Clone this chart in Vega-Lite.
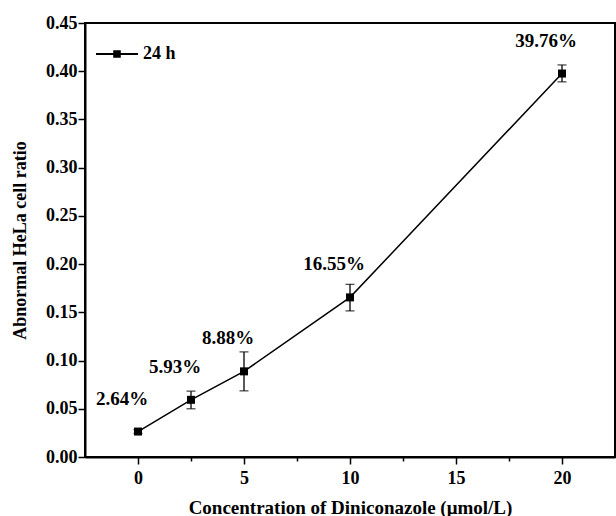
{
  "$schema": "https://vega.github.io/schema/vega-lite/v6.json",
  "width": 530,
  "height": 434,
  "autosize": "none",
  "padding": {"left": 85, "top": 23, "right": 1, "bottom": 59},
  "background": "white",
  "config": {
    "view": {"stroke": "black", "strokeWidth": 2},
    "font": "Liberation Serif",
    "axis": {
      "grid": false,
      "domainColor": "black",
      "domainWidth": 2,
      "tickColor": "black",
      "tickWidth": 1.5,
      "labelFont": "Liberation Serif",
      "labelFontWeight": "bold",
      "labelFontSize": 18,
      "labelColor": "black",
      "titleFont": "Liberation Serif",
      "titleFontWeight": "bold",
      "titleFontSize": 19,
      "titleColor": "black"
    }
  },
  "data": {
    "values": [
      {"conc": 0, "ratio": 0.0264, "lo": 0.0244, "hi": 0.0284, "label": "2.64%", "series": "24 h"},
      {"conc": 2.5, "ratio": 0.0593, "lo": 0.0500, "hi": 0.0683, "label": "5.93%", "series": "24 h"},
      {"conc": 5, "ratio": 0.0888, "lo": 0.0686, "hi": 0.1090, "label": "8.88%", "series": "24 h"},
      {"conc": 10, "ratio": 0.1655, "lo": 0.1515, "hi": 0.1790, "label": "16.55%", "series": "24 h"},
      {"conc": 20, "ratio": 0.3976, "lo": 0.3890, "hi": 0.4065, "label": "39.76%", "series": "24 h"}
    ]
  },
  "encoding": {
    "x": {
      "field": "conc",
      "type": "quantitative",
      "scale": {"domain": [-2.5, 22.5], "nice": false, "zero": false},
      "axis": {
        "title": "Concentration of Diniconazole (μmol/L)",
        "values": [0, 2.5, 5, 7.5, 10, 12.5, 15, 17.5, 20],
        "labelExpr": "datum.value % 5 == 0 ? format(datum.value, 'd') : ''",
        "tickSize": {"condition": {"test": "datum.value % 5 == 0", "value": 7}, "value": 4},
        "labelPadding": 5,
        "titlePadding": 11
      }
    }
  },
  "layer": [
    {
      "mark": {"type": "line", "color": "black", "strokeWidth": 1.5},
      "encoding": {
        "y": {
          "field": "ratio",
          "type": "quantitative",
          "scale": {"domain": [0, 0.45], "nice": false},
          "axis": {
            "title": "Abnormal HeLa cell ratio",
            "titleFontSize": 18,
            "values": [0, 0.025, 0.05, 0.075, 0.1, 0.125, 0.15, 0.175, 0.2, 0.225, 0.25, 0.275, 0.3, 0.325, 0.35, 0.375, 0.4, 0.425, 0.45],
            "labelExpr": "round(datum.value * 1000) % 50 == 0 ? format(datum.value, '.2f') : ''",
            "tickSize": {"condition": {"test": "round(datum.value * 1000) % 50 == 0", "value": 7}, "value": 4},
            "labelPadding": 1,
            "titlePadding": 16
          }
        }
      }
    },
    {
      "mark": {"type": "rule", "color": "black", "strokeWidth": 1.3},
      "encoding": {
        "y": {"field": "lo", "type": "quantitative"},
        "y2": {"field": "hi"}
      }
    },
    {
      "mark": {"type": "tick", "orient": "horizontal", "color": "black", "size": 9, "thickness": 1.3},
      "encoding": {"y": {"field": "lo", "type": "quantitative"}}
    },
    {
      "mark": {"type": "tick", "orient": "horizontal", "color": "black", "size": 9, "thickness": 1.3},
      "encoding": {"y": {"field": "hi", "type": "quantitative"}}
    },
    {
      "mark": {"type": "point", "shape": "square", "filled": true, "size": 64, "opacity": 1},
      "encoding": {
        "y": {"field": "ratio", "type": "quantitative"},
        "color": {
          "field": "series",
          "type": "nominal",
          "scale": {"range": ["black"]},
          "legend": {
            "title": null,
            "orient": "none",
            "legendX": 11,
            "legendY": 10,
            "padding": 0,
            "symbolType": "M-1,-0.05H1V0.05H-1Z M-0.18,-0.18H0.18V0.18H-0.18Z",
            "symbolSize": 1764,
            "symbolFillColor": "black",
            "symbolStrokeWidth": 0,
            "labelFont": "Liberation Serif",
            "labelFontWeight": "bold",
            "labelFontSize": 18,
            "labelColor": "black",
            "labelOffset": 5
          }
        }
      }
    },
    {
      "mark": {"type": "text", "font": "Liberation Serif", "fontWeight": "bold", "fontSize": 19, "color": "black", "dx": -16, "dy": -33, "baseline": "middle"},
      "encoding": {
        "y": {"field": "ratio", "type": "quantitative"},
        "text": {"field": "label"}
      }
    }
  ]
}
